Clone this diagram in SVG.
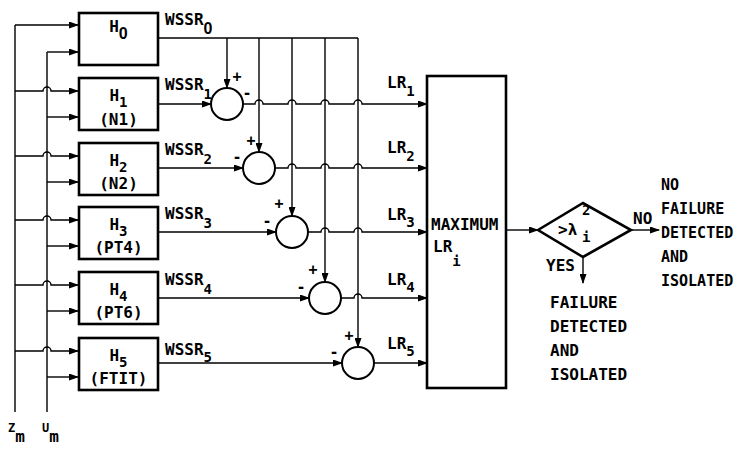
<svg xmlns="http://www.w3.org/2000/svg" width="738" height="450" viewBox="0 0 738 450">
<defs>
<style>
.ln{stroke:#000;stroke-width:1.4;fill:none}
.bx{stroke:#000;stroke-width:2.6;fill:#fff}
.sm{stroke:#000;stroke-width:2;fill:#fff}
.ar{marker-end:url(#ah)}
text{font-family:"DejaVu Sans Mono","Liberation Mono",monospace;font-size:16px;font-weight:bold;fill:#000}
.s{font-size:14px}
.z{font-family:"Liberation Sans",sans-serif;font-size:16px}
.sg{font-size:15px;text-anchor:middle}
.c{text-anchor:middle}
.r{font-size:15px}
</style>
<marker id="ah" markerUnits="userSpaceOnUse" markerWidth="10" markerHeight="7" refX="9" refY="3.5" orient="auto">
<path d="M0,0 L10,3.5 L0,7 z" fill="#000"/>
</marker>
</defs>
<rect width="738" height="450" fill="#fff"/>

<g id="connectors">
<path class="ln" d="M15,25 V412 M47,52 V412"/>
<path class="ln ar" d="M15,25 H78"/>
<path class="ln ar" d="M47,52 H78"/>
<path class="ln ar" d="M15,91 H43 a4,4 0 0 1 8,0 H78"/>
<path class="ln ar" d="M47,117 H78"/>
<path class="ln ar" d="M15,156 H43 a4,4 0 0 1 8,0 H78"/>
<path class="ln ar" d="M47,182 H78"/>
<path class="ln ar" d="M15,220 H43 a4,4 0 0 1 8,0 H78"/>
<path class="ln ar" d="M47,246 H78"/>
<path class="ln ar" d="M15,285 H43 a4,4 0 0 1 8,0 H78"/>
<path class="ln ar" d="M47,311 H78"/>
<path class="ln ar" d="M15,351 H43 a4,4 0 0 1 8,0 H78"/>
<path class="ln ar" d="M47,377 H78"/>

<path class="ln" d="M158,38 H358"/>
<path class="ln ar" d="M227,38 V88"/>
<path class="ln ar" d="M259,38 V152"/>
<path class="ln ar" d="M292,38 V216"/>
<path class="ln ar" d="M325,38 V282"/>
<path class="ln ar" d="M358,38 V347"/>

<path class="ln ar" d="M158,104 H211"/>
<path class="ln ar" d="M158,168 H243"/>
<path class="ln ar" d="M158,232 H276"/>
<path class="ln ar" d="M158,298 H309"/>
<path class="ln ar" d="M158,363 H342"/>

<path class="ln ar" d="M243,104 H255 a4,4 0 0 1 8,0 H288 a4,4 0 0 1 8,0 H321 a4,4 0 0 1 8,0 H354 a4,4 0 0 1 8,0 H427"/>
<path class="ln ar" d="M275,168 H288 a4,4 0 0 1 8,0 H321 a4,4 0 0 1 8,0 H354 a4,4 0 0 1 8,0 H427"/>
<path class="ln ar" d="M308,232 H321 a4,4 0 0 1 8,0 H354 a4,4 0 0 1 8,0 H427"/>
<path class="ln ar" d="M341,298 H354 a4,4 0 0 1 8,0 H427"/>
<path class="ln ar" d="M374,363 H427"/>

<path class="ln ar" d="M506,230 H538"/>
<path class="ln ar" d="M631,230 H659"/>
<path class="ln ar" d="M583,257 V283"/>
</g>

<g id="H0"><rect class="bx" x="79" y="13" width="79" height="52"/>
<text class="c" x="118.5" y="32">H<tspan class="z" dy="7">0</tspan></text></g>
<g id="H1"><rect class="bx" x="79" y="78" width="79" height="52"/>
<text class="c" x="118.5" y="101">H<tspan class="s" dy="6">1</tspan></text>
<text class="c" x="118.5" y="125">(N1)</text></g>
<g id="H2"><rect class="bx" x="79" y="143" width="79" height="52"/>
<text class="c" x="118.5" y="166">H<tspan class="s" dy="6">2</tspan></text>
<text class="c" x="118.5" y="189">(N2)</text></g>
<g id="H3"><rect class="bx" x="79" y="207" width="79" height="52"/>
<text class="c" x="118.5" y="230">H<tspan class="s" dy="6">3</tspan></text>
<text class="c" x="118.5" y="253">(PT4)</text></g>
<g id="H4"><rect class="bx" x="79" y="272" width="79" height="52"/>
<text class="c" x="118.5" y="295">H<tspan class="s" dy="6">4</tspan></text>
<text class="c" x="118.5" y="318">(PT6)</text></g>
<g id="H5"><rect class="bx" x="79" y="338" width="79" height="52"/>
<text class="c" x="118.5" y="361">H<tspan class="s" dy="6">5</tspan></text>
<text class="c" x="118.5" y="384">(FTIT)</text></g>

<g id="labels-wssr">
<text x="165" y="25">WSSR<tspan class="z" dy="9">0</tspan></text>
<text x="165" y="90">WSSR<tspan class="s" dy="9">1</tspan></text>
<text x="165" y="155">WSSR<tspan class="s" dy="9">2</tspan></text>
<text x="165" y="219">WSSR<tspan class="s" dy="9">3</tspan></text>
<text x="165" y="285">WSSR<tspan class="s" dy="9">4</tspan></text>
<text x="165" y="355">WSSR<tspan class="s" dy="7">5</tspan></text>
</g>

<g id="S1"><circle class="sm" cx="227" cy="104" r="16"/>
<text class="sg" x="237" y="82">+</text><text class="sg" x="247" y="98">-</text></g>
<g id="S2"><circle class="sm" cx="259" cy="168" r="16"/>
<text class="sg" x="251" y="146">+</text><text class="sg" x="237" y="162">-</text></g>
<g id="S3"><circle class="sm" cx="292" cy="232" r="16"/>
<text class="sg" x="279" y="209">+</text><text class="sg" x="267" y="226">-</text></g>
<g id="S4"><circle class="sm" cx="325" cy="298" r="16"/>
<text class="sg" x="313" y="275">+</text><text class="sg" x="301" y="292">-</text></g>
<g id="S5"><circle class="sm" cx="358" cy="363" r="16"/>
<text class="sg" x="349" y="341">+</text><text class="sg" x="334" y="357">-</text></g>

<g id="labels-lr">
<text x="387" y="88">LR<tspan class="s" dy="8">1</tspan></text>
<text x="387" y="153">LR<tspan class="s" dy="8">2</tspan></text>
<text x="387" y="220">LR<tspan class="s" dy="7">3</tspan></text>
<text x="387" y="285">LR<tspan class="s" dy="7">4</tspan></text>
<text x="387" y="349">LR<tspan class="s" dy="7">5</tspan></text>
</g>

<g id="MAX"><rect class="bx" x="427" y="76" width="79" height="312"/>
<text x="431" y="230">MAXIMUM</text>
<text x="433" y="252">LR<tspan class="s" dy="14">i</tspan></text></g>

<g id="TEST"><polygon class="bx" points="538,230 583,203 631,230 583,257"/>
<text x="558" y="235">&gt;λ</text>
<text class="s" x="582" y="215">2</text>
<text class="s" x="582" y="242">i</text></g>

<g id="outcomes">
<text x="633" y="224">NO</text>
<text x="546" y="271">YES</text>
<text x="550" y="308">FAILURE</text>
<text x="550" y="332">DETECTED</text>
<text x="550" y="356">AND</text>
<text x="550" y="380">ISOLATED</text>
<text class="r" x="661" y="190">NO</text>
<text class="r" x="661" y="214">FAILURE</text>
<text class="r" x="661" y="238">DETECTED</text>
<text class="r" x="661" y="262">AND</text>
<text class="r" x="661" y="286">ISOLATED</text>
</g>

<g id="inputs">
<text x="8" y="432" style="font-size:12px">Z<tspan style="font-size:16px" dy="10">m</tspan></text>
<text x="42" y="432" style="font-size:12px">U<tspan style="font-size:16px" dy="10">m</tspan></text>
</g>
</svg>
